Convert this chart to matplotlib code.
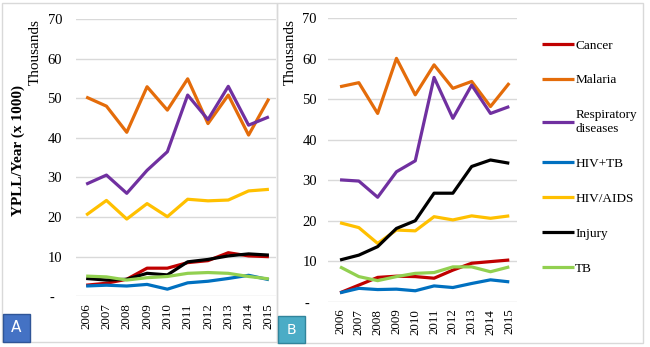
import numpy as np
import matplotlib.pyplot as plt
from matplotlib.patches import Rectangle

#-------------------------------------------------------------------------------
# DATA (YPLL / year, thousands)
years = ["2006", "2007", "2008", "2009", "2010", "2011", "2012", "2013", "2014", "2015"]
series_names = ["Cancer", "Malaria", "Respiratory\ndiseases", "HIV+TB", "HIV/AIDS", "Injury", "TB"]
colors = ["#C00000", "#E46C0A", "#7030A0", "#0070C0", "#FFC000", "#000000", "#92D050"]

# panel A
cancer_a = [2.8, 3.3, 4.3, 7.1, 7.1, 8.5, 9.0, 11.0, 10.2, 10.0]
malaria_a = [50.3, 48.0, 41.4, 52.9, 47.0, 54.9, 43.6, 50.8, 40.7, 49.9]
resp_a = [28.3, 30.6, 26.0, 31.8, 36.5, 50.8, 44.6, 53.0, 43.2, 45.3]
hivtb_a = [2.6, 2.8, 2.6, 3.0, 1.8, 3.4, 3.8, 4.5, 5.3, 4.2]
hivaids_a = [20.5, 24.2, 19.5, 23.4, 20.1, 24.5, 24.1, 24.3, 26.6, 27.0]
injury_a = [4.5, 4.1, 4.3, 5.8, 5.4, 8.7, 9.3, 10.2, 10.7, 10.4]
tb_a = [5.1, 4.9, 4.1, 4.7, 5.0, 5.8, 6.0, 5.8, 5.0, 4.4]

# panel B
cancer_b = [2.2, 4.1, 6.0, 6.3, 6.2, 5.8, 7.8, 9.5, 9.9, 10.3]
malaria_b = [53.1, 54.1, 46.5, 60.1, 51.1, 58.5, 52.7, 54.4, 48.2, 54.0]
resp_b = [30.1, 29.8, 25.8, 32.1, 34.8, 55.4, 45.3, 53.5, 46.5, 48.2]
hivtb_b = [2.2, 3.3, 3.0, 3.1, 2.7, 3.9, 3.5, 4.5, 5.4, 4.9]
hivaids_b = [19.5, 18.3, 14.4, 17.7, 17.5, 21.0, 20.2, 21.2, 20.6, 21.2]
injury_b = [10.3, 11.5, 13.6, 18.1, 20.0, 26.8, 26.8, 33.4, 35.0, 34.2]
tb_b = [8.6, 6.2, 5.2, 6.2, 7.0, 7.2, 8.6, 8.6, 7.4, 8.6]

data_a = [cancer_a, malaria_a, resp_a, hivtb_a, hivaids_a, injury_a, tb_a]
data_b = [cancer_b, malaria_b, resp_b, hivtb_b, hivaids_b, injury_b, tb_b]
#-------------------------------------------------------------------------------

plt.rcParams['font.family'] = ['Liberation Serif', 'DejaVu Serif']
W, H = 650, 347
fig = plt.figure(figsize=(6.5, 3.47), dpi=100)

def box(x0, y0, x1, y1):
    # pixel box (top-left origin) -> figure fraction
    return [x0 / W, 1 - y1 / H, (x1 - x0) / W, (y1 - y0) / H]

axA = fig.add_axes(box(76, 19, 276, 296.3))
axB = fig.add_axes(box(328, 18.3, 517, 301.7))

x = np.arange(len(years))
for ax, data, xl, pad in [(axA, data_a, (-0.5, 9.35), 10), (axB, data_b, (-0.64, 9.41), 8)]:
    for vals, c, name in zip(data, colors, series_names):
        ax.plot(x, vals, color=c, lw=2.3, label=name, solid_capstyle='butt')
    ax.set_xlim(*xl)
    ax.set_ylim(0, 70)
    ax.set_yticks(range(0, 71, 10))
    ax.set_yticklabels(["-  "] + [str(v) for v in range(10, 71, 10)])
    ax.set_xticks(x)
    ax.set_xticklabels(years, rotation=90)
    ax.grid(axis='y', color='#D9D9D9', lw=1)
    ax.set_axisbelow(True)
    for s in ax.spines.values():
        s.set_visible(False)
    ax.tick_params(length=0, labelsize=10.5)
    ax.tick_params(axis='y', pad=pad)
    ax.tick_params(axis='x', pad=5, labelsize=9.3)

fig.text(35 / W, 1 - 52 / H, "Thousands", rotation=90, fontsize=11, ha='center', va='center')
fig.text(290 / W, 1 - 52 / H, "Thousands", rotation=90, fontsize=11, ha='center', va='center')
fig.text(18 / W, 1 - 150 / H, "YPLL/Year (x 1000)", rotation=90, fontsize=11,
         fontweight='bold', ha='center', va='center')

axB.legend(loc='upper left', bbox_to_anchor=(537 / W, 1 - 34 / H), bbox_transform=fig.transFigure,
           frameon=False, fontsize=9.5, handlelength=2.4, handletextpad=0.1,
           labelspacing=1.72, borderaxespad=0)

# panel frames and corner tags
fig.patches.append(Rectangle((2 / W, 1 - 341.5 / H), 275 / W, 339 / H, transform=fig.transFigure,
                             fill=False, ec='#D9D9D9', lw=1))
fig.patches.append(Rectangle((277 / W, 1 - 342.5 / H), 366 / W, 340 / H, transform=fig.transFigure,
                             fill=False, ec='#D9D9D9', lw=1))
fig.patches.append(Rectangle((3 / W, 1 - 341.5 / H), 27 / W, 27.5 / H, transform=fig.transFigure,
                             fc='#4472C4', ec='#2F5597', lw=1))
fig.patches.append(Rectangle((278 / W, 1 - 342.5 / H), 27 / W, 26.5 / H, transform=fig.transFigure,
                             fc='#4BACC6', ec='#31849B', lw=1))
fig.text(16.5 / W, 1 - 328 / H, "A", color='white', fontsize=11, ha='center', va='center',
         family=['DejaVu Sans'])
fig.text(291.5 / W, 1 - 329.5 / H, "B", color='white', fontsize=10, ha='center', va='center',
         family=['DejaVu Sans'])

plt.savefig("out.png", dpi=100)
